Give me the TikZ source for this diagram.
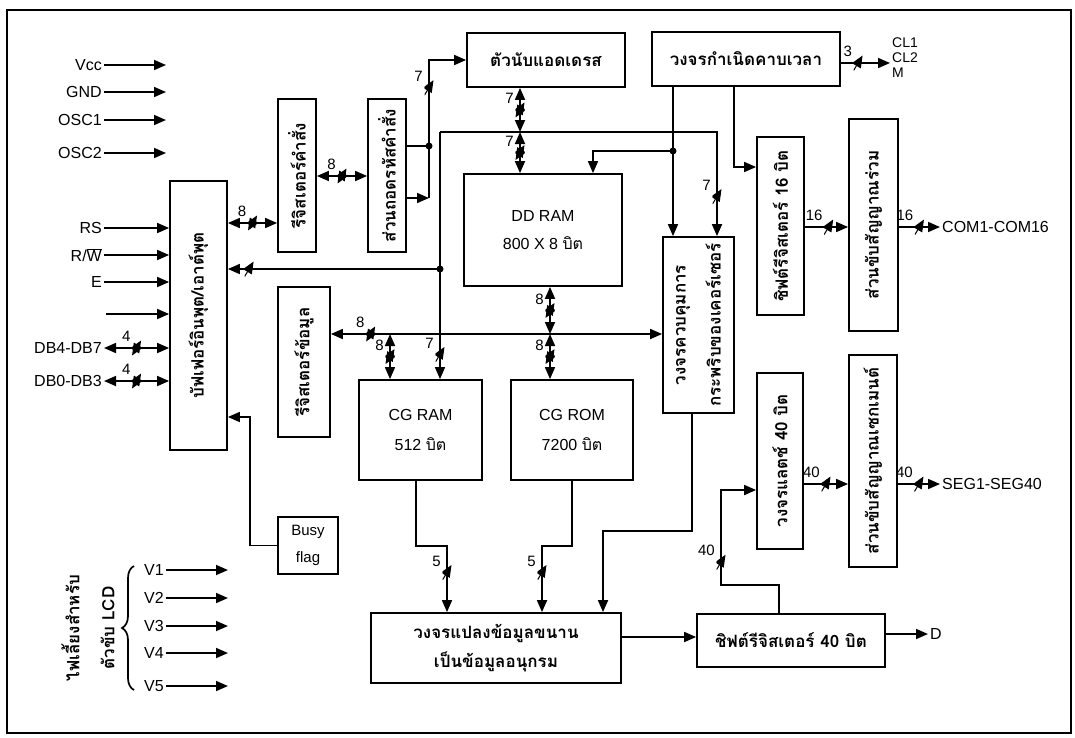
\documentclass[tikz,border=0pt]{standalone}
\usepackage{fontspec}
\setmainfont{Liberation Sans}
\newfontfamily\thaifont[Script=Thai]{Loma}
\usetikzlibrary{arrows.meta,calc,positioning,decorations.pathreplacing}
\newcommand\ovl[1]{\ensuremath{\overline{\hbox{#1}}}}

\tikzset{
  blk/.style={draw, line width=1.8pt, inner sep=0pt},
  th/.style={font=\thaifont\bfseries\fontsize{17}{29}\selectfont, align=center},
  vth/.style={th, rotate=90},
  wide/.style={font=\thaifont\bfseries\fontsize{17}{35}\selectfont},
  lbl/.style={font=\fontsize{16}{18}\selectfont, inner sep=2pt},
  wire/.style={line width=1.7pt},
  arr/.style={wire, -{Triangle[length=12pt,width=10pt]}},
  darr/.style={wire, {Triangle[length=12pt,width=10pt]}-{Triangle[length=12pt,width=10pt]}},
  bw/.style={inner sep=0pt, minimum width=9pt, minimum height=15pt,
    path picture={\draw[line width=1pt] (path picture bounding box.south west) -- (path picture bounding box.north east);},
    label={[font=\fontsize{15}{16}\selectfont, inner sep=0pt]above left:#1}},
  dot/.style={circle, fill, inner sep=0pt, minimum size=7pt}
}

\begin{document}
\begin{tikzpicture}[x=1pt,y=-1pt]
  \useasboundingbox (0,0) rectangle (1075,737);
  \draw[line width=1.8pt] (7,10) rectangle (1071,733);

  % blocks
  \node[blk, minimum width=57pt, minimum height=269pt, label={[vth]center:บัฟเฟอร์อินพุต/เอาต์พุต}] (buf) at (198.5,315.5) {};
  \node[blk, minimum width=38pt, minimum height=153pt, label={[vth]center:รีจิสเตอร์คำสั่ง}] (ir) at (297,175.5) {};
  \node[blk, minimum width=38pt, minimum height=153pt, label={[vth]center:ส่วนถอดรหัสคำสั่ง}] (dec) at (387,175.5) {};
  \node[blk, minimum width=52pt, minimum height=150pt, label={[vth]center:รีจิสเตอร์ข้อมูล}] (dreg) at (304,362) {};
  \node[blk, th, minimum width=158pt, minimum height=54pt] (ac) at (546,60) {ตัวนับแอดเดรส};
  \node[blk, th, minimum width=188pt, minimum height=54pt] (tgen) at (746,59) {วงจรกำเนิดคาบเวลา};
  \node[blk, lbl, align=center, minimum width=158pt, minimum height=112pt] (ddram) at (543,230) {DD RAM\\[10pt]800 X 8 {\thaifont บิต}};
  \node[blk, minimum width=71pt, minimum height=176pt, label={[vth, wide]center:วงจรควบคุมการ\\กระพริบของเคอร์เซอร์}] (cur) at (698.5,325) {};
  \node[blk, minimum width=47pt, minimum height=178pt, label={[vth]center:ชิฟต์รีจิสเตอร์ 16 บิต}] (sr16) at (780.5,226) {};
  \node[blk, minimum width=49pt, minimum height=212pt, label={[vth]center:ส่วนขับสัญญาณร่วม}] (com) at (873.5,225) {};
  \node[blk, minimum width=46pt, minimum height=176pt, label={[vth]center:วงจรแลตช์ 40 บิต}] (latch) at (780,461) {};
  \node[blk, minimum width=48pt, minimum height=212pt, label={[vth]center:ส่วนขับสัญญาณเซกเมนต์}] (seg) at (873,461) {};
  \node[blk, lbl, align=center, minimum width=123pt, minimum height=100pt] (cgram) at (420.5,430) {CG RAM\\[12pt]512 {\thaifont บิต}};
  \node[blk, lbl, align=center, minimum width=122pt, minimum height=100pt] (cgrom) at (572,430) {CG ROM\\[12pt]7200 {\thaifont บิต}};
  \node[blk, th, minimum width=250pt, minimum height=70pt] (conv) at (496,648) {วงจรแปลงข้อมูลขนาน\\เป็นข้อมูลอนุกรม};
  \node[blk, th, minimum width=188pt, minimum height=53pt] (sr40) at (791,640.5) {ชิฟต์รีจิสเตอร์ 40 บิต};
  \node[blk, lbl, align=center, minimum width=60pt, minimum height=57pt, font=\fontsize{15}{27}\selectfont] (busy) at (308,545.5) {Busy\\flag};

  % pins on the left
  \foreach \n/\t/\y in {vcc/Vcc/65, gnd/GND/92, oscA/OSC1/120, oscB/OSC2/153}{
    \node[lbl, anchor=east] (\n) at (104,\y) {\t};
    \draw[arr] (\n.east) -- ++(62,0);
  }
  \node[lbl, anchor=east] (rs) at (104,228) {RS};
  \node[lbl, anchor=east] (rw) at (104,255) {R/\ovl{W}};
  \node[lbl, anchor=east] (en) at (104,282) {E};
  \coordinate (nc) at (106,314);
  \node[lbl, anchor=east] (dbh) at (104,348) {DB4-DB7};
  \node[lbl, anchor=east] (dbl) at (104,381) {DB0-DB3};
  \draw[arr] (rs.east) -- (rs.east -| buf.west);
  \draw[arr] (rw.east) -- (rw.east -| buf.west);
  \draw[arr] (en.east) -- (en.east -| buf.west);
  \draw[arr] (nc) -- (nc -| buf.west);
  \draw[darr] (dbh.east) -- node[bw=4, pos=0.5]{} (dbh.east -| buf.west);
  \draw[darr] (dbl.east) -- node[bw=4, pos=0.5]{} (dbl.east -| buf.west);

  % instruction path
  \draw[darr] (buf.east |- 0,223) -- node[bw=8, pos=0.5]{} (ir.west |- 0,223);
  \draw[darr] (ir.east |- 0,176) -- node[bw=8, pos=0.5]{} (dec.west |- 0,176);
  \coordinate (j1) at (429,146);
  \coordinate (j7) at (429,198);
  \draw[wire] (dec.east |- j1) -- (j1);
  \node[dot] at (j1) {};
  \draw[arr] (dec.east |- j7) -- (j7);
  \draw[arr] (j7) |- node[bw=7, pos=0.4]{} (ac.west);

  % address bus
  \coordinate (b1) at (440,132);
  \coordinate (b2) at (520,132);
  \coordinate (j2) at (440,269);
  \draw[arr] (b1) -- node[bw=7, pos=0.9]{} (cgram.north -| b1);
  \draw[arr] (b1) -| node[bw=7, pos=0.81]{} (cur.north -| 717,0);
  \node[dot] at (j2) {};
  \draw[arr] (j2) -- node[bw={}, pos=0.9]{} (buf.east |- j2);
  \draw[darr] (ac.south -| b2) -- node[bw=7]{} (b2);
  \draw[darr] (b2) -- node[bw=7]{} (ddram.north -| b2);

  % timing
  \node[lbl, anchor=west, align=left, font=\fontsize{14}{15}\selectfont] (clk) at (890,58) {CL1\\CL2\\M};
  \draw[arr] (tgen.east |- 0,63) -- node[bw=3, pos=0.35]{} (clk.west |- 0,63);
  \coordinate (j3) at (673,151);
  \draw[arr] (tgen.south -| j3) -- (cur.north -| j3);
  \node[dot] at (j3) {};
  \draw[arr] (j3) -| (ddram.north -| 593,0);
  \draw[arr] (tgen.south -| 734,0) |- (sr16.west |- 0,167);

  % data bus
  \coordinate (d1) at (390,334);
  \coordinate (d2) at (550,334);
  \draw[darr] (dreg.east |- d1) -- node[bw=8, pos=0.12]{} (cur.west |- d1);
  \draw[darr] (d1) -- node[bw=8]{} (cgram.north -| d1);
  \draw[darr] (d2) -- node[bw=8]{} (ddram.south -| d2);
  \draw[darr] (d2) -- node[bw=8]{} (cgrom.north -| d2);

  % to the converter
  \draw[arr] (cgram.south -| 416,0) |- (447,546) -- node[bw=5, pos=0.4]{} (conv.north -| 447,0);
  \draw[arr] (cgrom.south -| 572,0) |- (542,546) -- node[bw=5, pos=0.4]{} (conv.north -| 542,0);
  \draw[arr] (cur.south -| 692,0) |- (603,531) -- (conv.north -| 603,0);
  \draw[arr] (conv.east |- 0,637) -- (sr40.west |- 0,637);

  % outputs
  \node[lbl, anchor=west] (dout) at (928,634) {D};
  \draw[arr] (sr40.east |- dout.west) -- (dout.west);
  \draw[arr] (sr40.north -| 779,0) |- (721,585) |- node[bw=40, pos=0.12]{} (latch.west |- 0,490);
  \node[lbl, anchor=west] (comout) at (940,227) {COM1-COM16};
  \draw[arr] (sr16.east |- 0,227) -- node[bw=16, pos=0.55]{} (com.west |- 0,227);
  \draw[arr] (com.east |- 0,227) -- node[bw=16, pos=0.5]{} (comout.west);
  \node[lbl, anchor=west] (segout) at (940,484) {SEG1-SEG40};
  \draw[arr] (latch.east |- 0,484) -- node[bw=40, pos=0.5]{} (seg.west |- 0,484);
  \draw[arr] (seg.east |- 0,484) -- node[bw=40, pos=0.5]{} (segout.west);

  % busy flag
  \draw[arr] (busy.west) -| (250,417) -- (buf.east |- 0,417);

  % LCD supply
  \foreach \i/\y in {1/570,2/598,3/626,4/653,5/686}{
    \node[lbl, anchor=east] (v\i) at (166,\y) {V\i};
    \draw[arr] (v\i.east) -- ++(62,0);
  }
  \draw[wire, decorate, decoration={brace, amplitude=12pt}] (134,690) -- (134,566);
  \node[vth, wide] (lcdpwr) at (88,628) {ไฟเลี้ยงสำหรับ\\ตัวขับ LCD};
\end{tikzpicture}
\end{document}
